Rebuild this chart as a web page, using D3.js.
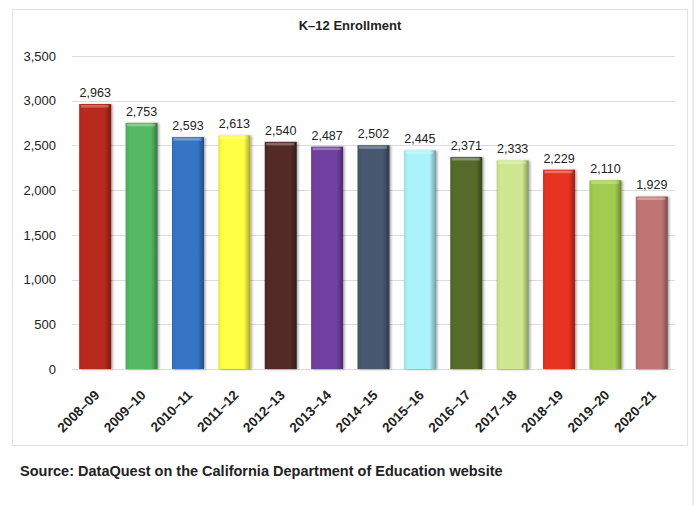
<!DOCTYPE html>
<html><head><meta charset="utf-8">
<script src="https://cdn.jsdelivr.net/npm/d3@7"></script>
<style>body{margin:0;background:#fff}svg{display:block}text{font-family:Arial,"Liberation Sans",sans-serif}</style>
</head><body>
<svg id="c" width="697" height="505"></svg>
<script>
const categories = ["2008–09","2009–10","2010–11","2011–12","2012–13","2013–14","2014–15","2015–16","2016–17","2017–18","2018–19","2019–20","2020–21"];
const enrollment = [2963,2753,2593,2613,2540,2487,2502,2445,2371,2333,2229,2110,1929];
const barColors = ["#B82A1E","#55B862","#3575C5","#FFFF44","#532A28","#7040A0","#475870","#A8F4FA","#566A2C","#CDE890","#E83224","#A2CC50","#C07474"];
const yTicks = [0,500,1000,1500,2000,2500,3000,3500];
const title = "K–12 Enrollment";
const source = "Source: DataQuest on the California Department of Education website";

const svg = d3.select("#c");
const W = 697, H = 505;
const m = {left:72, right:675, top:56, bottom:369};

// outer line and frame
svg.append("line").attr("x1",693).attr("x2",693).attr("y1",0).attr("y2",H).attr("stroke","#d4d4d4").attr("stroke-width",1);
svg.append("rect").attr("x",12.5).attr("y",9.5).attr("width",675).attr("height",436).attr("fill","#fff").attr("stroke","#e2e2e2");

const x = d3.scaleBand().domain(categories).range([m.left,m.right]).paddingInner(0.31).paddingOuter(0.155);
const y = d3.scaleLinear().domain([0,3500]).range([m.bottom,m.top]);

// gridlines
svg.append("g").selectAll("line").data(yTicks).join("line")
  .attr("x1",m.left).attr("x2",m.right)
  .attr("y1",d=>Math.round(y(d))+0.5).attr("y2",d=>Math.round(y(d))+0.5)
  .attr("stroke","#dcdcdc").attr("stroke-width",1);

// y axis labels
const yAxis = d3.axisLeft(y).tickValues(yTicks).tickFormat(d3.format(",")).tickSize(0).tickPadding(0);
const ya = svg.append("g").attr("transform","translate(56,0)").call(yAxis);
ya.select(".domain").remove();
ya.selectAll("text").attr("font-size","13px").attr("fill","#222").style("font-family","Arial,'Liberation Sans',sans-serif");

// defs gradients
const defs = svg.append("defs");
barColors.forEach((c,i)=>{
  const g = defs.append("linearGradient").attr("id","g"+i).attr("x1","0").attr("x2","1").attr("y1","0").attr("y2","0");
  const base = d3.color(c);
  g.append("stop").attr("offset","0").attr("stop-color",d3.rgb(base).darker(0.25));
  g.append("stop").attr("offset","0.12").attr("stop-color",base.formatHex());
  g.append("stop").attr("offset","0.8").attr("stop-color",base.formatHex());
  g.append("stop").attr("offset","1").attr("stop-color",d3.rgb(base).darker(1.2));
});
// shadow filter
const f = defs.append("filter").attr("id","sh").attr("x","-20%").attr("y","-5%").attr("width","150%").attr("height","115%");
f.append("feDropShadow").attr("dx",1.5).attr("dy",0.5).attr("stdDeviation",1).attr("flood-color","#000").attr("flood-opacity",0.35);

const bars = svg.append("g").selectAll("g").data(categories).join("g");
bars.append("rect")
  .attr("x",d=>x(d)).attr("width",x.bandwidth())
  .attr("y",(d,i)=>y(enrollment[i])).attr("height",(d,i)=>y(0)-y(enrollment[i]))
  .attr("fill",(d,i)=>`url(#g${i})`).attr("filter","url(#sh)");
// top bevel
bars.append("rect")
  .attr("x",d=>x(d)+1.5).attr("width",x.bandwidth()-4)
  .attr("y",(d,i)=>y(enrollment[i])+1).attr("height",2.5)
  .attr("fill","#fff").attr("opacity",0.3);

// value labels
svg.append("g").selectAll("text").data(categories).join("text")
  .attr("x",d=>x(d)+x.bandwidth()/2).attr("y",(d,i)=>y(enrollment[i])-7)
  .attr("text-anchor","middle").attr("font-size","12.5px").attr("fill","#222")
  .text((d,i)=>d3.format(",")(enrollment[i]));

// x labels
svg.append("g").selectAll("text").data(categories).join("text")
  .attr("transform",d=>`translate(${x(d)+x.bandwidth()/2+5},${m.bottom+27}) rotate(-45)`)
  .attr("text-anchor","end").attr("font-size","13.5px").attr("font-weight","bold").attr("fill","#222")
  .text(d=>d);

// title
svg.append("text").attr("x",350).attr("y",30).attr("text-anchor","middle")
  .attr("font-size","13px").attr("font-weight","bold").attr("fill","#222").text(title);

// source
svg.append("text").attr("x",20).attr("y",476)
  .attr("font-size","14.5px").attr("font-weight","bold").attr("fill","#222").text(source);
</script>
</body></html>
